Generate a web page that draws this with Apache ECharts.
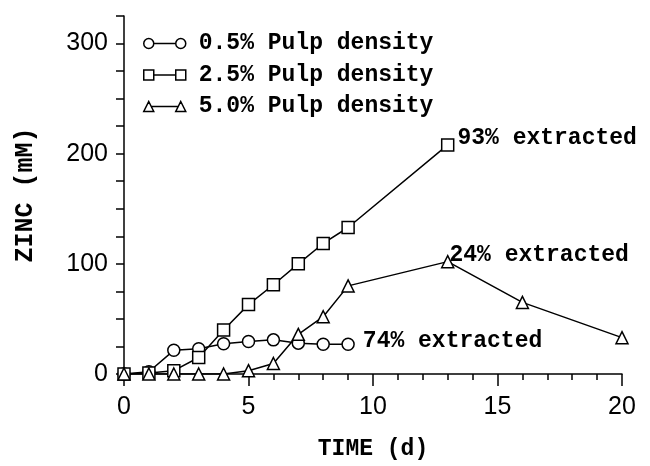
<!DOCTYPE html>
<html>
<head>
<meta charset="utf-8">
<script src="https://cdn.jsdelivr.net/npm/echarts@6/dist/echarts.min.js"></script>
<style>
    html, body { margin: 0; padding: 0; background: #fff; }
    #main { width: 650px; height: 466px; }
</style>
</head>
<body>
<div id="main"></div>
<script>
    // 数据
    let seriesNames = ['0.5% Pulp density', '2.5% Pulp density', '5.0% Pulp density'];
    let daysLow = [0, 1, 2, 3, 4, 5, 6, 7, 8, 9];
    let zincLow = [0, 2, 21.5, 23, 27.5, 29.5, 31, 28, 27, 27];
    let daysMid = [0, 1, 2, 3, 4, 5, 6, 7, 8, 9, 13];
    let zincMid = [0, 1, 3, 15, 40, 63, 81, 100, 118.5, 133, 208];
    let daysHigh = [0, 1, 2, 3, 4, 5, 6, 7, 8, 9, 13, 16, 20];
    let zincHigh = [0, 0, 0, 0, 0, 3, 9.5, 36, 52, 80, 102, 65, 33];
    let notes = ['74% extracted', '93% extracted', '24% extracted'];
    let noteIndex = [9, 10, 10];
    let yTickLabels = [0, 100, 200, 300];

    let monoFont = 'Liberation Mono';

    // 图例图标：两端各一个符号，中间连线
    let iconCircle = 'path://M0,5 a5,5 0 1,0 10,0 a5,5 0 1,0 -10,0 M10,5 L32,5 M32,5 a5,5 0 1,0 10,0 a5,5 0 1,0 -10,0';
    let iconSquare = 'path://M0,0 L10,0 L10,10 L0,10 Z M10,5 L32,5 M32,0 L42,0 L42,10 L32,10 Z';
    let iconTriangle = 'path://M5,0 L10,10 L0,10 Z M7.5,5 L34.5,5 M37,0 L42,10 L32,10 Z';

    function buildData(xs, ys, idx, text, offset) {
        let out = [];
        xs.forEach((x, i) => {
            let item = {value: [x, ys[i]]};
            if (i === idx) {
                item.label = {
                    show: true,
                    position: 'right',
                    offset: offset,
                    formatter: text,
                    color: '#000',
                    fontFamily: monoFont,
                    fontWeight: 'bold',
                    fontSize: 23
                };
            }
            out.push(item);
        });
        return out;
    }

    let lineCommon = {
        type: 'line',
        symbolSize: 12,
        showAllSymbol: true,
        color: '#000',
        lineStyle: {color: '#000', width: 1.5},
        itemStyle: {color: '#fff', borderColor: '#000', borderWidth: 1.5},
        emphasis: {disabled: true},
        animation: false,
        z: 3
    };

    let myChart = echarts.init(document.getElementById('main'));
    let option = {
        animation: false,
        backgroundColor: '#fff',
        grid: {left: 124, right: 28, top: 16, bottom: 87},
        legend: {
            orient: 'vertical',
            left: 143,
            top: 32,
            padding: 0,
            itemWidth: 42,
            itemHeight: 10,
            itemGap: 8.5,
            selectedMode: false,
            textStyle: {
                color: '#000',
                fontFamily: monoFont,
                fontWeight: 'bold',
                fontSize: 23,
                lineHeight: 22,
                padding: [0, 0, 0, 8]
            },
            itemStyle: {color: '#fff', borderColor: '#000', borderWidth: 1.5},
            data: [
                {name: seriesNames[0], icon: iconCircle},
                {name: seriesNames[1], icon: iconSquare},
                {name: seriesNames[2], icon: iconTriangle}
            ]
        },
        xAxis: {
            type: 'value',
            min: 0,
            max: 20,
            interval: 5,
            name: 'TIME (d)',
            nameLocation: 'middle',
            nameGap: 64,
            nameTextStyle: {color: '#000', fontFamily: monoFont, fontWeight: 'bold', fontSize: 23},
            splitLine: {show: false},
            axisLine: {lineStyle: {color: '#000', width: 1.5}},
            axisTick: {inside: false, length: 12, lineStyle: {color: '#000', width: 1.5}},
            minorTick: {show: true, splitNumber: 5, length: 6, lineStyle: {color: '#000', width: 1.5}},
            axisLabel: {color: '#000', fontFamily: 'Liberation Sans', fontSize: 25, margin: 21}
        },
        yAxis: {
            type: 'value',
            min: 0,
            max: 325,
            interval: 25,
            name: 'ZINC (mM)',
            nameLocation: 'middle',
            nameGap: 86,
            nameTextStyle: {color: '#000', fontFamily: monoFont, fontWeight: 'bold', fontSize: 25},
            splitLine: {show: false},
            axisLine: {onZero: false, lineStyle: {color: '#000', width: 1.5}},
            axisTick: {inside: false, length: 8, lineStyle: {color: '#000', width: 1.5}},
            axisLabel: {
                color: '#000',
                fontFamily: 'Liberation Sans',
                fontSize: 25,
                margin: 16,
                formatter: function (v) {
                    return yTickLabels.indexOf(v) >= 0 ? String(v) : '';
                }
            }
        },
        series: [
            Object.assign({}, lineCommon, {
                name: seriesNames[0],
                symbol: 'circle',
                data: buildData(daysLow, zincLow, noteIndex[0], notes[0], [3, -3])
            }),
            Object.assign({}, lineCommon, {
                name: seriesNames[1],
                symbol: 'rect',
                data: buildData(daysMid, zincMid, noteIndex[1], notes[1], [-2, -7])
            }),
            Object.assign({}, lineCommon, {
                name: seriesNames[2],
                symbol: 'triangle',
                data: buildData(daysHigh, zincHigh, noteIndex[2], notes[2], [-10, -6])
            })
        ]
    };
    myChart.setOption(option);
</script>
</body>
</html>
